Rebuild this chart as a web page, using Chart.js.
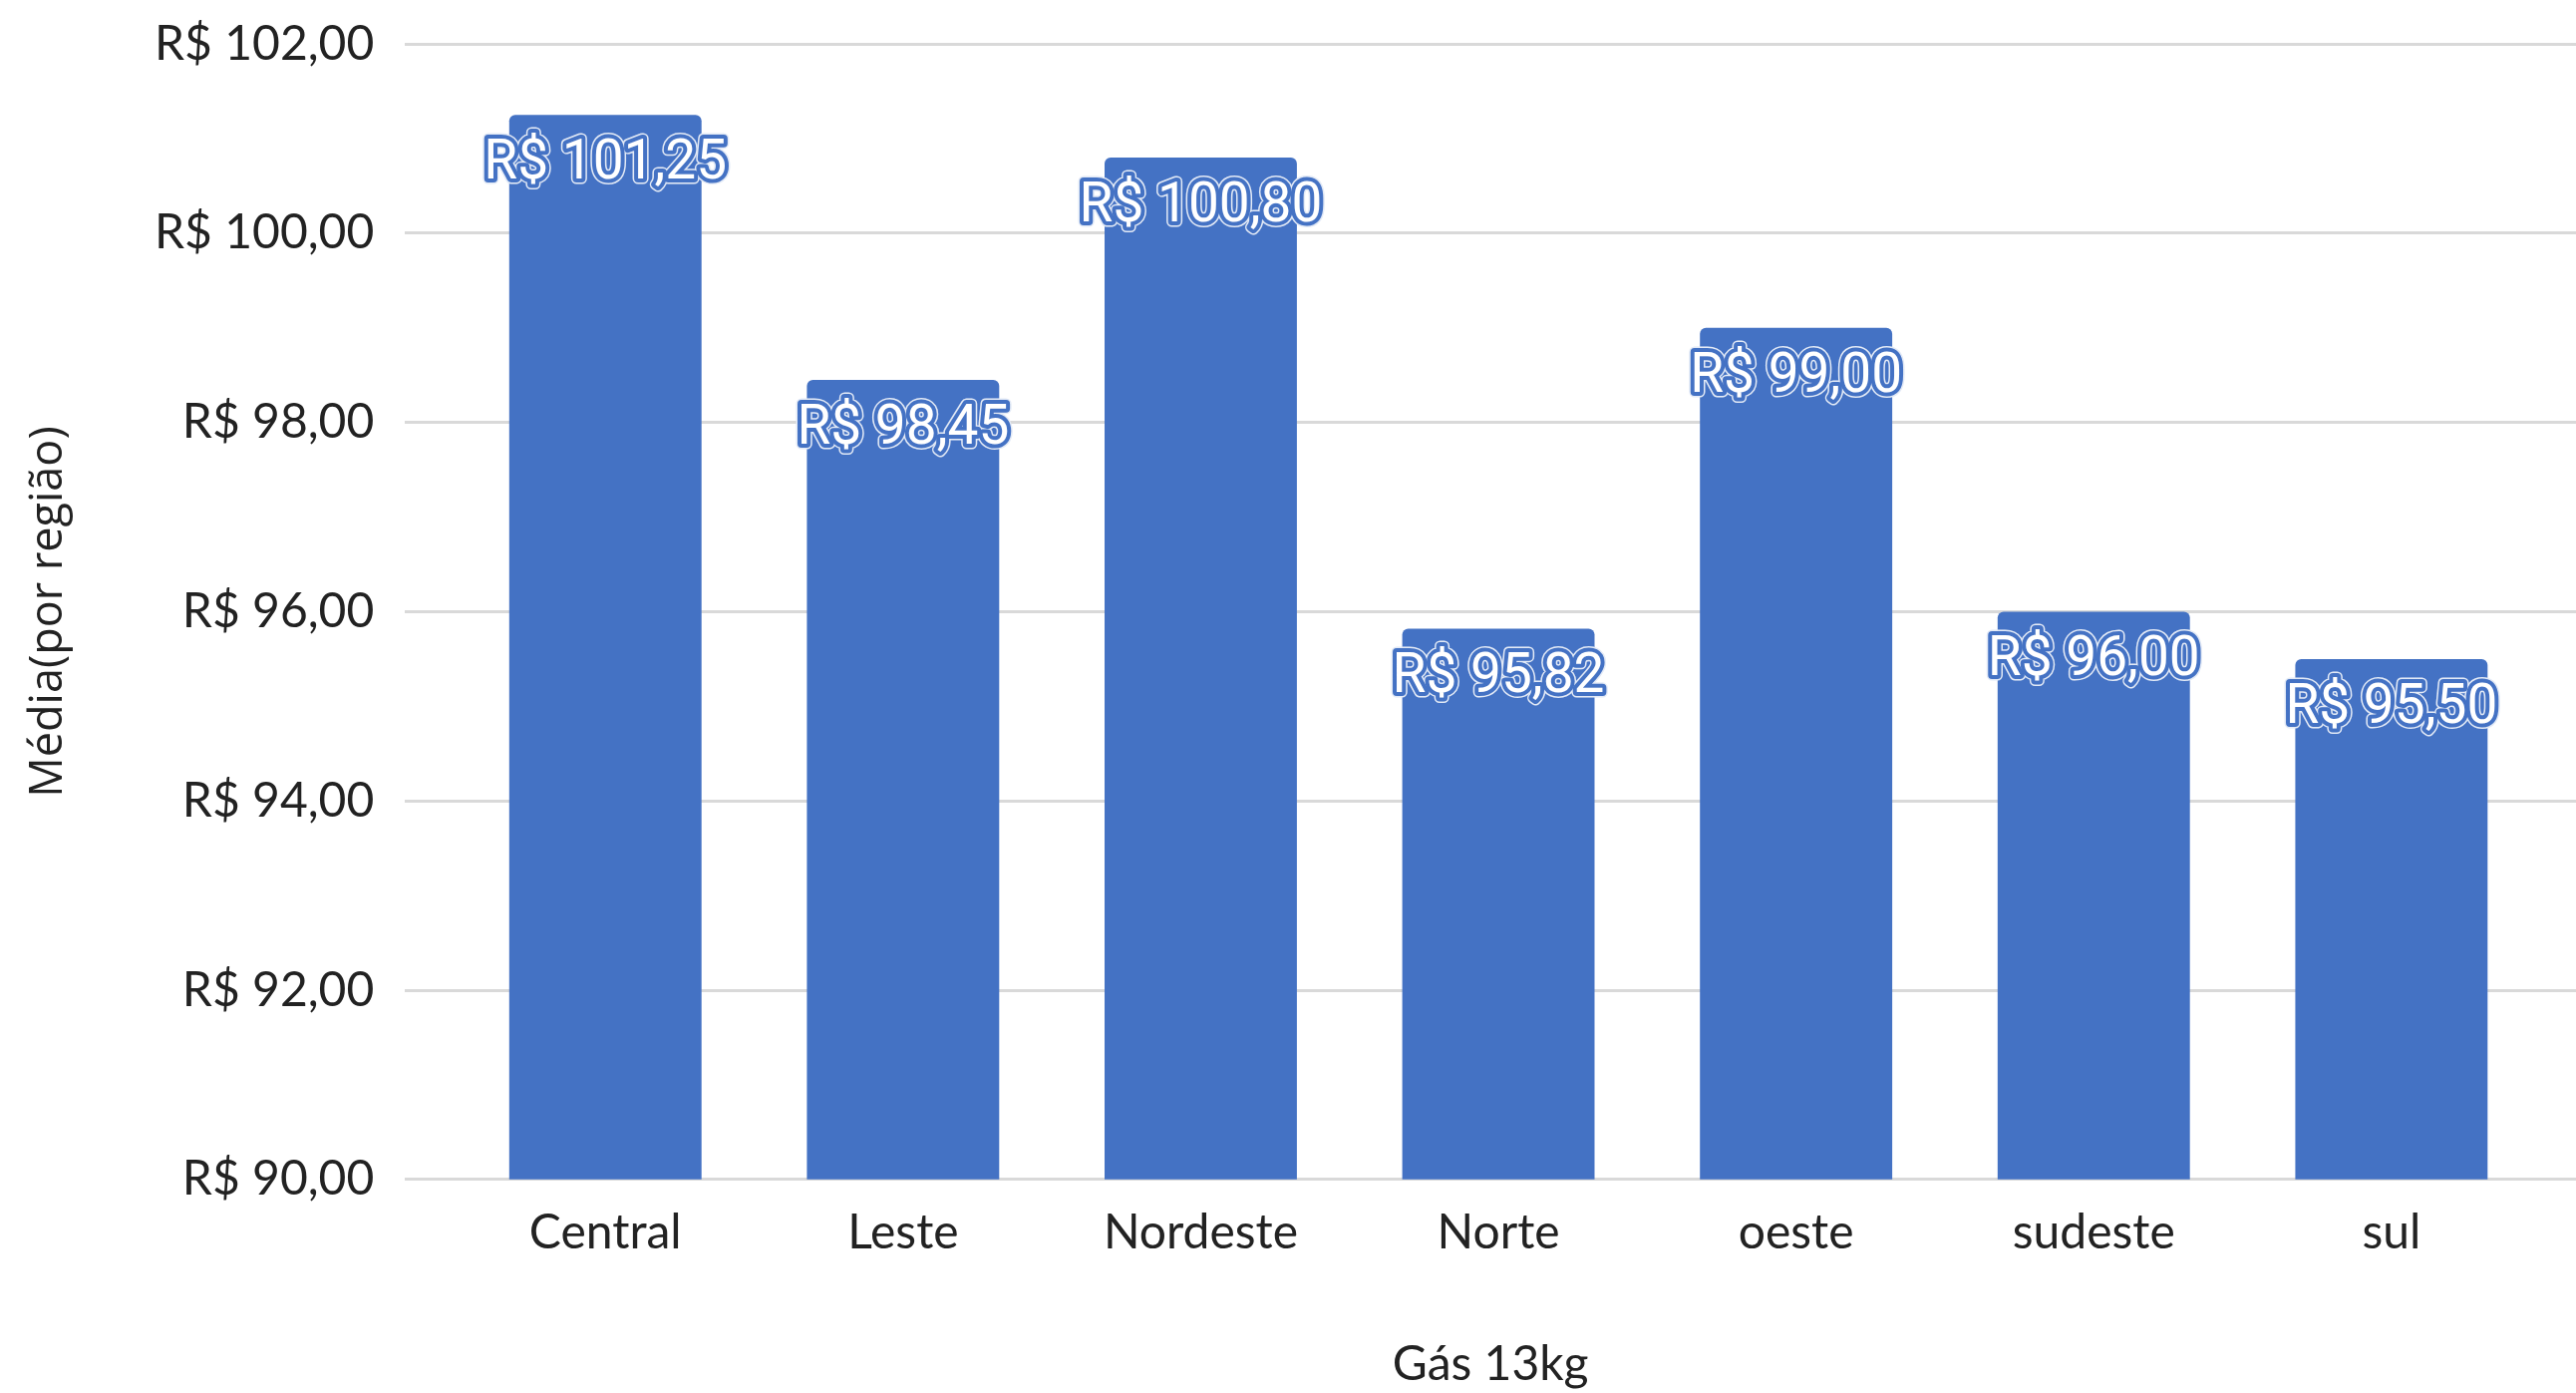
<!DOCTYPE html>
<html>
<head>
<meta charset="utf-8">
<script src="https://cdn.jsdelivr.net/npm/chart.js@4/dist/chart.umd.min.js"></script>
<style>
  html, body { margin: 0; padding: 0; background: #fff; }
  #wrap { width: 2584px; height: 1397px; }
</style>
</head>
<body>
<div id="wrap"><canvas id="graficoGas"></canvas></div>
<script>
// Dados do gráfico
const regioes = ['Central', 'Leste', 'Nordeste', 'Norte', 'oeste', 'sudeste', 'sul'];
const medias = [101.25, 98.45, 100.80, 95.82, 99.00, 96.00, 95.50];
const ticksY = [90, 92, 94, 96, 98, 100, 102];
const tituloX = 'Gás 13kg';
const tituloY = 'Média(por região)';

function formatarReal(v) {
    return 'R$ ' + v.toFixed(2).replace('.', ',');
}

// Rótulos brancos com contorno azul sobre as barras
const rotulosBarras = {
    id: 'rotulosBarras',
    afterDatasetsDraw(chart) {
        const ctx = chart.ctx;
        const meta = chart.getDatasetMeta(0);
        ctx.save();
        ctx.font = '55px Roboto';
        ctx.textAlign = 'center';
        ctx.textBaseline = 'middle';
        ctx.lineJoin = 'round';
        meta.data.forEach((barra, i) => {
            const texto = formatarReal(medias[i]);
            const y = barra.y + 50;
            ctx.lineWidth = 11;
            ctx.strokeStyle = '#e3eaf6';
            ctx.strokeText(texto, barra.x, y);
            ctx.lineWidth = 8;
            ctx.strokeStyle = '#4472C4';
            ctx.strokeText(texto, barra.x, y);
            ctx.fillStyle = '#ffffff';
            ctx.fillText(texto, barra.x, y);
        });
        ctx.restore();
    }
};

document.addEventListener('DOMContentLoaded', () => {
    const ctx = document.getElementById('graficoGas').getContext('2d');
    new Chart(ctx, {
        type: 'bar',
        data: {
            datasets: [{
                label: tituloX,
                data: regioes.map((r, i) => ({ x: i, y: medias[i] })),
                backgroundColor: '#4472C4',
                borderRadius: 6,
                borderSkipped: 'start',
                categoryPercentage: 1,
                barPercentage: 0.646
            }]
        },
        options: {
            responsive: true,
            maintainAspectRatio: false,
            animation: false,
            layout: { padding: { top: 0, left: 22, right: 0, bottom: 0 } },
            plugins: {
                legend: { display: false },
                tooltip: { enabled: false }
            },
            scales: {
                x: {
                    type: 'linear',
                    offset: false,
                    min: -0.673,
                    max: 6.62,
                    afterBuildTicks: scale => {
                        scale.ticks = regioes.map((r, i) => ({ value: i }));
                    },
                    grid: { display: false },
                    border: { display: false },
                    ticks: {
                        autoSkip: false,
                        maxRotation: 0,
                        padding: 17,
                        color: '#222',
                        font: { family: 'Lato', size: 48 },
                        callback: v => regioes[v]
                    },
                    title: {
                        display: true,
                        text: tituloX,
                        color: '#222',
                        font: { family: 'Lato', size: 48 },
                        padding: { top: 57, bottom: 0 }
                    }
                },
                y: {
                    min: 90,
                    max: 102,
                    afterBuildTicks: scale => {
                        scale.ticks = ticksY.map(v => ({ value: v }));
                    },
                    grid: { color: '#d9d9d9', lineWidth: 3, drawTicks: false },
                    border: { display: false },
                    ticks: {
                        padding: 31,
                        color: '#222',
                        font: { family: 'Lato', size: 48, lineHeight: 0.55 },
                        callback: v => formatarReal(v)
                    },
                    title: {
                        display: true,
                        text: tituloY,
                        color: '#222',
                        font: { family: 'Open Sans', size: 45 },
                        padding: { top: 0, bottom: 48 }
                    }
                }
            }
        },
        plugins: [rotulosBarras]
    });
});
</script>
</body>
</html>
